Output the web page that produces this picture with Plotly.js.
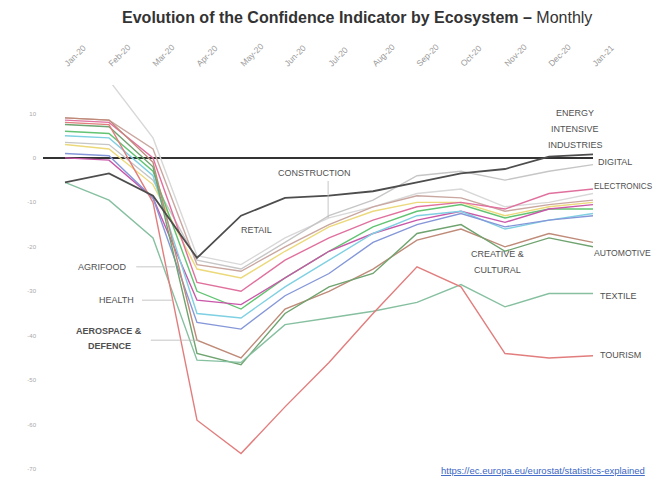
<!DOCTYPE html>
<html>
<head>
<meta charset="utf-8">
<script src="https://cdn.plot.ly/plotly-3.0.1.min.js"></script>
<style>
  html, body { margin: 0; padding: 0; background: #ffffff; }
  #chart { width: 653px; height: 480px; }
</style>
</head>
<body>
<div id="chart"></div>
<script>
// Monthly confidence indicator, one series per industrial ecosystem
const months = ['Jan-20','Feb-20','Mar-20','Apr-20','May-20','Jun-20','Jul-20','Aug-20','Sep-20','Oct-20','Nov-20','Dec-20','Jan-21'];

const energyIntensive = [-5.5, -3.5, -8.5, -22.5, -13, -9, -8.5, -7.5, -5.5, -3.5, -2.5, 0.3, 0.8];
const digital         = [3.5, 3, -5, -23, -25, -19, -13, -9.5, -4, -3, -5, -3, -1.5];
const construction    = [21, 17.5, 4.5, -22, -24, -18, -13.5, -11, -8, -7, -11, -10, -8];
const retail          = [9, 8.5, 2, -24, -25.5, -20, -15, -11, -8.5, -9, -12, -10.5, -9.5];
const electronics     = [8.5, 8, 0, -28, -30, -23, -18, -14, -11, -10, -11.5, -8, -7];
const agrifood        = [3, 2, -6, -25, -27, -21, -15.5, -12, -10, -10, -13, -11, -10];
const proximity       = [6, 5.5, -3, -30, -34, -27, -21, -15.5, -12, -10.5, -13.5, -11.5, -11.5];
const health          = [0, -0.5, -9, -32, -33, -27, -21, -17, -14, -12, -14.5, -11.5, -10.5];
const mobility        = [5, 4.5, -4, -35, -36, -29, -23, -17, -13, -12, -16, -14, -12.5];
const renewables      = [1, 0.5, -9, -37, -38.5, -31, -26, -19, -15, -12.5, -15.5, -14, -13];
const aerospace       = [9, 8.5, -1, -41, -45, -34, -30, -25, -18.5, -16, -20, -17, -19];
const creative        = [7.5, 7, -2, -44, -46.5, -35, -29, -26, -17, -15, -21, -18, -20];
const textile         = [-5.5, -9.5, -18, -45.5, -46, -37.5, -36, -34.5, -32.5, -28.5, -33.5, -30.5, -30.5];
const tourism         = [8, 7.5, -10, -59, -66.5, -56, -46, -35, -24.5, -29, -44, -45, -44.5];

const yTicks = [10, 0, -10, -20, -30, -40, -50, -60, -70];

const series = [
  {name: 'Construction', y: construction, color: '#d8d8d8'},
  {name: 'Digital', y: digital, color: '#c6c6c6'},
  {name: 'Retail', y: retail, color: '#c9a7a0'},
  {name: 'Agrifood', y: agrifood, color: '#ecd97c'},
  {name: 'Electronics', y: electronics, color: '#e0719e'},
  {name: 'Proximity', y: proximity, color: '#62c472'},
  {name: 'Health', y: health, color: '#c957a9'},
  {name: 'Mobility', y: mobility, color: '#7fd0e2'},
  {name: 'Renewables', y: renewables, color: '#8597d8'},
  {name: 'Aerospace & Defence', y: aerospace, color: '#bf8a78'},
  {name: 'Creative & Cultural', y: creative, color: '#6fa36f'},
  {name: 'Textile', y: textile, color: '#86c0a0'},
  {name: 'Tourism', y: tourism, color: '#e27d7d'},
  {name: 'Energy Intensive Industries', y: energyIntensive, color: '#4d4d4d', width: 1.8}
];

const traces = series.map(s => ({
  type: 'scatter',
  mode: 'lines',
  name: s.name,
  x: months,
  y: s.y,
  line: {color: s.color, width: s.width || 1.4},
  hoverinfo: 'skip'
}));

const FONT = 'Liberation Sans, Arial, sans-serif';

function label(text, x, y, anchor, xshift, size) {
  return {text: text, x: x, y: y, xref: 'x', yref: 'y', showarrow: false,
          xanchor: anchor || 'center', yanchor: 'middle', xshift: xshift || 0,
          font: {family: FONT, size: size || 9, color: '#505050'}, align: 'center'};
}

const annotations = [
  label('ENERGY', 11.6, 10.2),
  label('INTENSIVE', 11.6, 6.6),
  label('INDUSTRIES', 11.6, 3.0),
  label('DIGITAL', 12, -1, 'left', 3),
  label('ELECTRONICS', 12, -6.5, 'left', -1, 8.2),
  label('AUTOMOTIVE', 12, -21.4, 'left', -1, 8.6),
  label('TEXTILE', 12, -31, 'left', 5),
  label('TOURISM', 12, -44.4, 'left', 5),
  label('CONSTRUCTION', 5.68, -3.4),
  label('RETAIL', 4.36, -16.2),
  label('CREATIVE &amp;', 9.82, -21.6),
  label('CULTURAL', 9.82, -25.2),
  label('AGRIFOOD', 0.86, -24.5),
  label('HEALTH', 1.18, -32),
  label('<b>AEROSPACE &amp;</b>', 1.0, -39.0),
  label('<b>DEFENCE</b>', 1.0, -42.2),
  {text: '<u>https://ec.europa.eu/eurostat/statistics-explained</u>', x: 8.5, y: -70.3,
   xref: 'x', yref: 'y', showarrow: false, xanchor: 'left', yanchor: 'middle',
   font: {family: FONT, size: 9.5, color: '#3a66c4'}}
];

// thin leader lines from the left-hand labels to their curves
const leader = (x0, y0, x1, y1) => ({type: 'line', xref: 'x', yref: 'y', x0: x0, y0: y0, x1: x1, y1: y1,
  line: {color: '#b8b8b8', width: 0.8}});

const shapes = [
  leader(1.62, -24.5, 2.5, -24.5),
  leader(1.75, -32, 2.45, -32),
  leader(1.95, -41, 3.05, -41),
  leader(5.98, -5.2, 5.98, -13.5)
];

const layout = {
  width: 653,
  height: 480,
  margin: {l: 43, r: 60, t: 85, b: 2},
  paper_bgcolor: '#ffffff',
  plot_bgcolor: '#ffffff',
  showlegend: false,
  title: {
    text: '<b>Evolution of the Confidence Indicator by Ecosystem –</b> Monthly',
    x: 0.547, xanchor: 'center', y: 0.963, yanchor: 'middle',
    font: {family: FONT, size: 16, color: '#333333'}
  },
  xaxis: {
    type: 'category',
    side: 'top',
    range: [-0.5, 12],
    tickangle: -45,
    showgrid: false,
    zeroline: false,
    showline: false,
    ticks: '',
    ticklabelstandoff: 14,
    tickfont: {family: FONT, size: 8.5, color: '#9a9a9a'}
  },
  yaxis: {
    range: [-72, 16.4],
    tickvals: yTicks,
    ticktext: yTicks.map(String),
    showgrid: false,
    zeroline: true,
    zerolinecolor: '#333333',
    zerolinewidth: 2,
    showline: false,
    ticks: '',
    ticklabelstandoff: 6,
    tickfont: {family: FONT, size: 6, color: '#a8a8a8'}
  },
  annotations: annotations,
  shapes: shapes
};

Plotly.newPlot('chart', traces, layout, {displayModeBar: false, staticPlot: true});
</script>
</body>
</html>
